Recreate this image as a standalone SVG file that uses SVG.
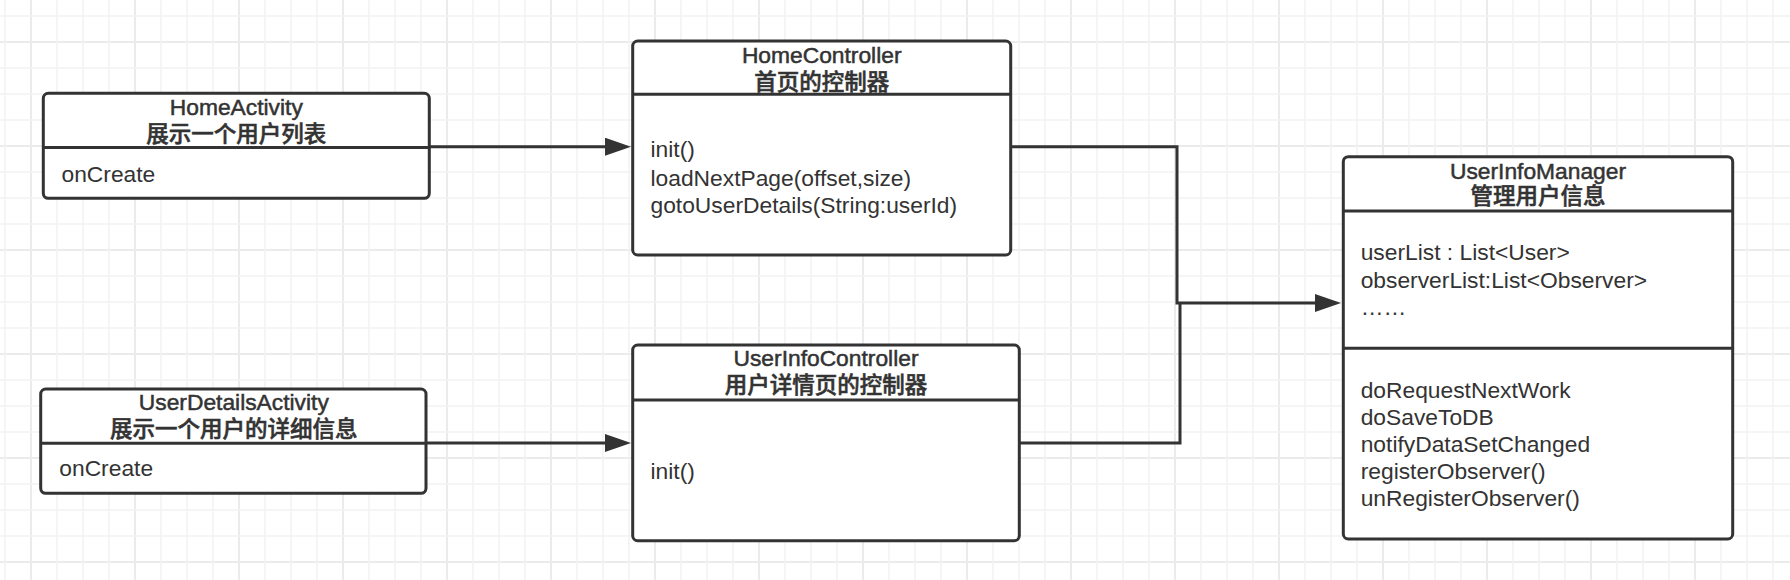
<svg xmlns="http://www.w3.org/2000/svg" width="1790" height="580" viewBox="0 0 1790 580">
  <defs>
    <pattern id="grid" x="30" y="41" width="104" height="104" patternUnits="userSpaceOnUse">
      <rect x="0" y="0" width="2" height="104" fill="#ebebeb"/>
      <rect x="0" y="0" width="104" height="2" fill="#ebebeb"/>
      <rect x="26.2" y="0" width="1.6" height="104" fill="#f3f3f3"/>
      <rect x="52.2" y="0" width="1.6" height="104" fill="#f3f3f3"/>
      <rect x="78.2" y="0" width="1.6" height="104" fill="#f3f3f3"/>
      <rect x="0" y="26.2" width="104" height="1.6" fill="#f3f3f3"/>
      <rect x="0" y="52.2" width="104" height="1.6" fill="#f3f3f3"/>
      <rect x="0" y="78.2" width="104" height="1.6" fill="#f3f3f3"/>
    </pattern>
    <marker id="arrow" markerUnits="userSpaceOnUse" markerWidth="32" markerHeight="22" refX="4" refY="9" orient="auto">
      <path d="M0,0 L26,9 L0,18 Z" fill="#333333"/>
    </marker>
  </defs>
  <style>
    .box { fill: #ffffff; stroke: #333333; stroke-width: 3; }
    .div { stroke: #333333; stroke-width: 3; fill: none; }
    .edge { stroke: #333333; stroke-width: 3; fill: none; }
    text { font-family: "Liberation Sans", "Noto Sans CJK SC", sans-serif; fill: #333333; }
    .title { font-size: 22.8px; text-anchor: middle; stroke: #333333; stroke-width: 0.5px; }
    .titlecn { font-size: 22.5px; text-anchor: middle; font-weight: 500; stroke: #333333; stroke-width: 0.55px; }
    .body { font-size: 22.8px; }
  </style>
  <rect x="0" y="0" width="1790" height="580" fill="#ffffff"/>
  <rect x="0" y="0" width="1790" height="580" fill="url(#grid)"/>

  <g id="connectors">
    <path class="edge" d="M429.3,146.7 H609" marker-end="url(#arrow)"/>
    <path class="edge" d="M426,443 H609" marker-end="url(#arrow)"/>
    <path class="edge" d="M1010.7,146.7 H1177 V303 H1319" marker-end="url(#arrow)"/>
    <path class="edge" d="M1019.3,443 H1180 V303"/>
  </g>

  <g id="HomeActivity">
    <rect class="box" x="43.3" y="93.3" width="386" height="105" rx="5"/>
    <line class="div" x1="43.3" y1="147.5" x2="429.3" y2="147.5"/>
    <text class="title" x="236.3" y="115">HomeActivity</text>
    <text class="titlecn" x="236.3" y="142">展示一个用户列表</text>
    <text class="body" x="61.5" y="181.5">onCreate</text>
  </g>

  <g id="HomeController">
    <rect class="box" x="632.7" y="41" width="378" height="214" rx="5"/>
    <line class="div" x1="632.7" y1="94.3" x2="1010.7" y2="94.3"/>
    <text class="title" x="821.7" y="63">HomeController</text>
    <text class="titlecn" x="821.7" y="90">首页的控制器</text>
    <text class="body" x="650.5" y="157">init()</text>
    <text class="body" x="650.5" y="185.5">loadNextPage(offset,size)</text>
    <text class="body" x="650.5" y="213">gotoUserDetails(String:userId)</text>
  </g>

  <g id="UserDetailsActivity">
    <rect class="box" x="40.7" y="389" width="385.3" height="104.3" rx="5"/>
    <line class="div" x1="40.7" y1="443.3" x2="426" y2="443.3"/>
    <text class="title" x="233.8" y="410">UserDetailsActivity</text>
    <text class="titlecn" x="233.8" y="437">展示一个用户的详细信息</text>
    <text class="body" x="59.3" y="475.5">onCreate</text>
  </g>

  <g id="UserInfoController">
    <rect class="box" x="632.7" y="345" width="386.6" height="195.7" rx="5"/>
    <line class="div" x1="632.7" y1="400" x2="1019.3" y2="400"/>
    <text class="title" x="826" y="366">UserInfoController</text>
    <text class="titlecn" x="826" y="393">用户详情页的控制器</text>
    <text class="body" x="650.5" y="479">init()</text>
  </g>

  <g id="UserInfoManager">
    <rect class="box" x="1343.3" y="156.7" width="389.4" height="382.3" rx="5"/>
    <line class="div" x1="1343.3" y1="211" x2="1732.7" y2="211"/>
    <line class="div" x1="1343.3" y1="348.3" x2="1732.7" y2="348.3"/>
    <text class="title" x="1538" y="179.3">UserInfoManager</text>
    <text class="titlecn" x="1538" y="204">管理用户信息</text>
    <text class="body" x="1360.7" y="260">userList : List&lt;User&gt;</text>
    <text class="body" x="1360.7" y="288.3">observerList:List&lt;Observer&gt;</text>
    <text class="body" x="1360.7" y="315">……</text>
    <text class="body" x="1360.7" y="398.3">doRequestNextWork</text>
    <text class="body" x="1360.7" y="425">doSaveToDB</text>
    <text class="body" x="1360.7" y="452.3">notifyDataSetChanged</text>
    <text class="body" x="1360.7" y="479.3">registerObserver()</text>
    <text class="body" x="1360.7" y="506">unRegisterObserver()</text>
  </g>
</svg>
